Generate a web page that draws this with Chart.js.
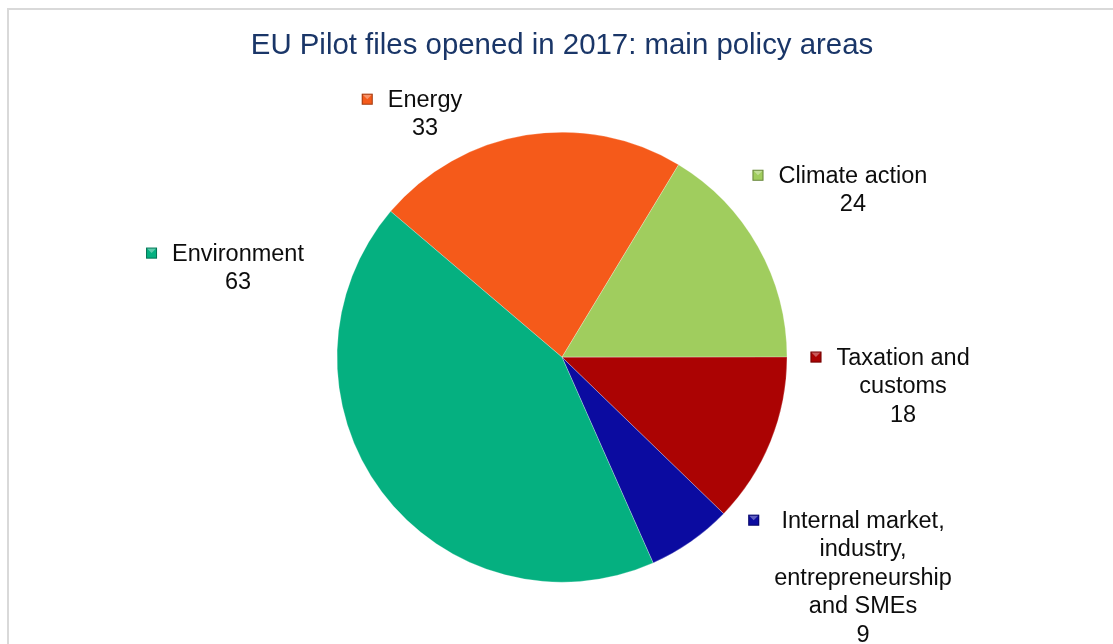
<!DOCTYPE html>
<html>
<head>
<meta charset="utf-8">
<script src="https://cdn.jsdelivr.net/npm/chart.js@4.4.1/dist/chart.umd.min.js"></script>
<style>
  html, body { margin: 0; padding: 0; background: #fff; }
  #wrap { position: relative; width: 1113px; height: 644px; }
</style>
</head>
<body>
<div id="wrap"><canvas id="pieChart" width="1113" height="644"></canvas></div>
<script>
// data (clockwise from Energy)
const categories = [
  ['Energy'],
  ['Climate action'],
  ['Taxation and', 'customs'],
  ['Internal market,', 'industry,', 'entrepreneurship', 'and SMEs'],
  ['Environment']
];
const fileCounts = [33, 24, 18, 9, 63];

const sliceColors = ['#f55a1a', '#a0cd5e', '#ab0303', '#0b0ba0', '#05b080'];
// where each label block sits, in pie radii from the centre (x = block centre, y = first line)
const labelPlaces = [
  [-0.609, -1.142],
  [1.293, -0.804],
  [1.516, 0.004],
  [1.338, 0.729],
  [-1.44, -0.458]
];

const total = fileCounts.reduce((a, b) => a + b, 0);
const startAngle = -(fileCounts[0] / total) * 180 - 9.2; // Energy centred a bit left of top

const frame = {
  id: 'frame',
  beforeDraw(chart) {
    const c = chart.ctx;
    c.save();
    c.fillStyle = '#fff';
    c.fillRect(0, 0, chart.width, chart.height);
    c.strokeStyle = '#d9d9d9';
    c.lineWidth = 2;
    c.beginPath();
    c.moveTo(8, chart.height + 5);
    c.lineTo(8, 9);
    c.lineTo(chart.width + 5, 9);
    c.stroke();
    c.restore();
  }
};

const sliceLabels = {
  id: 'sliceLabels',
  afterDatasetsDraw(chart) {
    const c = chart.ctx;
    const arc = chart.getDatasetMeta(0).data[0];
    const cx = arc.x, cy = arc.y, r = arc.outerRadius;
    const fontSize = 23.5, lineH = 28.5, box = 11;
    c.save();
    c.font = fontSize + 'px "Liberation Sans", Arial, sans-serif';
    c.textBaseline = 'middle';
    c.textAlign = 'center';
    categories.forEach((lines, i) => {
      const all = lines.concat([String(fileCounts[i])]);
      const bx = cx + labelPlaces[i][0] * r;
      const by = cy + labelPlaces[i][1] * r;
      const w = Math.max(...all.map(t => c.measureText(t).width));
      all.forEach((t, j) => {
        c.fillStyle = '#0d0d0d';
        c.fillText(t, bx, by + j * lineH);
      });
      // little bevelled square marker
      const mx = bx - w / 2 - 15 - box;
      const my = by - box / 2 - 1;
      c.fillStyle = sliceColors[i];
      c.fillRect(mx, my, box, box);
      c.strokeStyle = 'rgba(0,0,0,0.35)';
      c.lineWidth = 1;
      c.strokeRect(mx + 0.5, my + 0.5, box - 1, box - 1);
      c.fillStyle = 'rgba(255,255,255,0.35)';
      c.beginPath();
      c.moveTo(mx + 1, my + 1);
      c.lineTo(mx + box - 1, my + 1);
      c.lineTo(mx + box / 2, my + box / 2);
      c.closePath();
      c.fill();
    });
    c.restore();
  }
};

new Chart(document.getElementById('pieChart'), {
  type: 'pie',
  data: {
    labels: categories.map(l => l.join(' ')),
    datasets: [{
      data: fileCounts,
      backgroundColor: sliceColors,
      borderColor: 'rgba(255,255,255,0.25)',
      borderWidth: 1
    }]
  },
  options: {
    responsive: false,
    animation: false,
    rotation: startAngle,
    radius: 225,
    layout: { padding: { left: 11, right: 0, top: 0, bottom: 62 } },
    plugins: {
      legend: { display: false },
      tooltip: { enabled: false },
      title: {
        display: true,
        text: 'EU Pilot files opened in 2017: main policy areas',
        color: '#1a3668',
        font: { family: '"Liberation Sans", Arial, sans-serif', size: 29.4, weight: 'normal', lineHeight: 1.1 },
        padding: { top: 30, bottom: 70 }
      }
    }
  },
  plugins: [frame, sliceLabels]
});
</script>
</body>
</html>
